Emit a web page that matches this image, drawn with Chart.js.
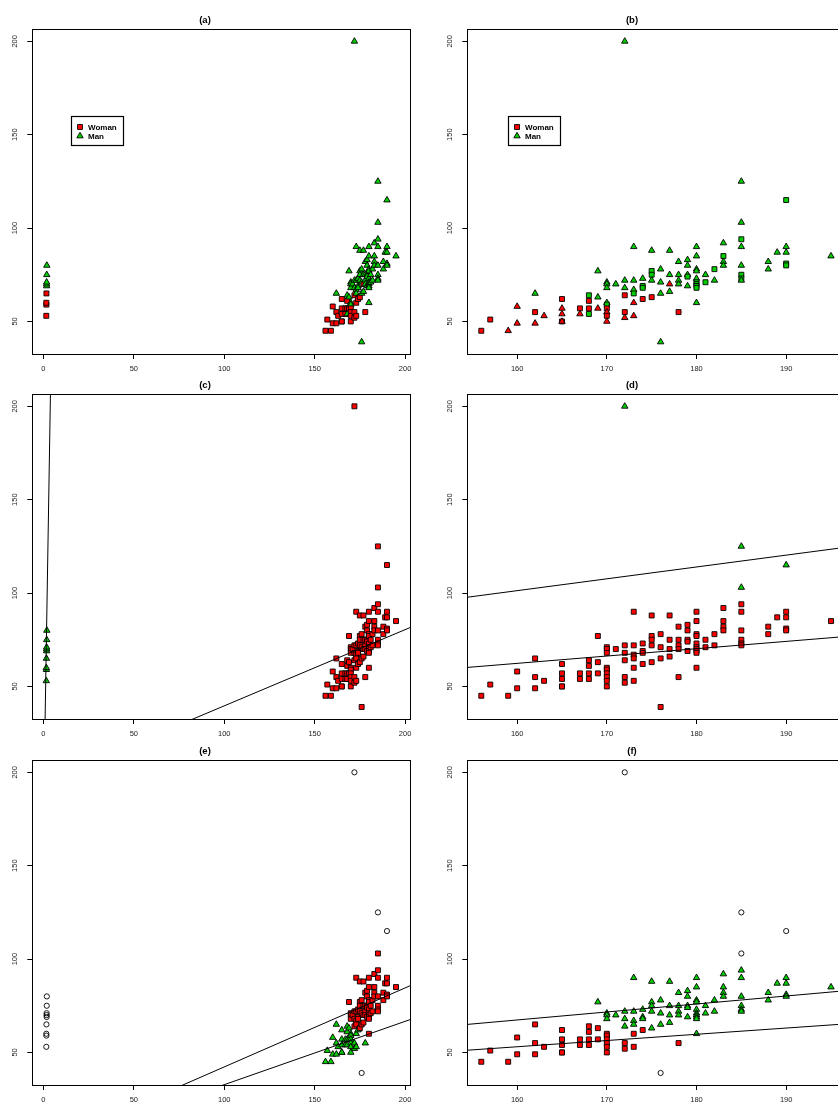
<!DOCTYPE html>
<html>
<head>
<meta charset="utf-8">
<title>Height and weight: sex groups and regression clusters</title>
<script src="https://cdn.jsdelivr.net/npm/chart.js@4.4.1/dist/chart.umd.min.js"></script>
<style>
  html, body { margin: 0; padding: 0; background: #fff; overflow: hidden; }
  #page { position: relative; width: 838px; height: 1102px; overflow: hidden; }
  #page canvas { position: absolute; }
</style>
</head>
<body>
<div id="page">
  <canvas id="chartA" width="419" height="371" style="left:0;top:0"></canvas>
  <canvas id="chartB" width="432" height="371" style="left:419px;top:0"></canvas>
  <canvas id="chartC" width="419" height="371" style="left:0;top:365px"></canvas>
  <canvas id="chartD" width="432" height="371" style="left:419px;top:365px"></canvas>
  <canvas id="chartE" width="419" height="371" style="left:0;top:731px"></canvas>
  <canvas id="chartF" width="432" height="371" style="left:419px;top:731px"></canvas>
</div>
<script>
// Height (cm) and weight (kg). The first nine heights were typed in metres.
const height = [
  1.60, 1.65, 1.62, 1.68, 1.80, 1.75, 1.78, 1.85, 1.90,
  156, 157, 159, 160, 160, 162, 162, 162, 163,
  165, 165, 165, 165, 165, 167, 167, 168, 168, 168, 168, 169, 169, 169,
  170, 170, 170, 170, 170, 170, 170, 170, 170, 171,
  172, 172, 172, 172, 172, 172, 173, 173, 173, 173, 173, 173,
  174, 174, 174, 174, 175, 175, 175, 175, 175, 176, 176, 176, 176,
  177, 177, 177, 177, 178, 178, 178, 178, 178, 179, 179, 179, 179, 179,
  180, 180, 180, 180, 180, 180, 180, 180, 180, 180, 181, 181, 182, 182,
  183, 183, 183, 183, 185, 185, 185, 185, 185, 185, 185, 185,
  188, 188, 189, 190, 190, 190, 190, 190, 195
];
const weight = [
  53, 59, 60, 65, 69, 70, 71, 75, 80,
  45, 51, 45, 58, 49, 65, 55, 49, 53,
  62, 57, 54, 50, 50, 57, 54, 64, 61, 57, 54, 77, 63, 57,
  71, 70, 68, 60, 59, 57, 55, 53, 50, 70,
  200, 72, 68, 64, 55, 52, 90, 72, 67, 65, 60, 53,
  73, 69, 68, 62, 88, 77, 75, 72, 63, 78, 71, 65, 39,
  88, 75, 70, 66, 82, 75, 72, 70, 55, 83, 80, 75, 74, 69,
  90, 85, 78, 77, 73, 71, 70, 69, 68, 60, 75, 71, 78, 72,
  92, 85, 82, 80, 125, 103, 94, 90, 80, 75, 73, 72,
  82, 78, 87, 115, 90, 87, 81, 80, 85
];

// One letter per point, spaces only separate height groups.
// sexA: colour in (a) and (b), shape in (a). sexB: shape in (b). W = Woman, M = Man
const sexA = 'WWWWMMMMM W W W WW MWW W WWWWW WW MWWM MMW MMMMMWWWW M MMMWWW MMMMWW MMMW MMMMW MMMM MMWM MMMMW MMMMM MMMMMMMMMM MM MM MMMM MMMMMMMM MM M MMMMM M'.replace(/ /g, '');
const sexB = 'WWWWMMMMM W W M MM MWM M WMMWM WM WWWW MMM MMMMWWMWM M MMMWWM MMMWMM MWWW MWWMW MMMM MMMM MMMMW MMMWM MMMMMWWWWM MW WM MWMM MMWMMWWM MM M WMMWW M'.replace(/ /g, '');
// regression clusters: (c) and (d) two components, (e) and (f) L = lower, U = upper, O = outlier
const clusterC = '111111111 2 2 2 22 222 2 22222 22 2222 222 222222222 2 222222 222222 2222 22222 2222 2222 22222 22222 2222222222 22 22 2222 22222222 22 2 22222 2'.replace(/ /g, '');
const clusterD = '111111111 1 1 1 11 111 1 11111 11 1111 111 111111111 1 211111 111111 1111 11111 1111 1111 11111 11111 1111111111 11 11 1111 22111111 11 1 21111 1'.replace(/ /g, '');
const clusterE = 'OOOOOOOOO L L L LL LLL L LLLLL LL LLLL ULL UUULLLLLL U OUUULL UUUULL UUUL UUUUU UUUO UUUU UUUUL UUUUU UUUUUUUUUU UU UU UUUU OUUUUUUU UU U OUUUU U'.replace(/ /g, '');
const clusterF = 'OOOOOOOOO L L L LL LLL L LLLLL LL LLLL ULL UUULLLLLL U OUUULL UUUULL UUUL UUUUU UUUO UUUU UUUUL UUUUU UUUUUUUUUU UU UU UUUU OOUUUUUU UU U OUUUU U'.replace(/ /g, '');

// fitted lines weight = intercept + slope * height
const interceptC = [-22.8, -1.2];
const slopeC = [58.9, 0.408];
const interceptD = [-0.15, -0.36];
const slopeD = [0.634, 0.392];
const interceptE = [-0.06, -1.16];
const slopeE = [0.423, 0.339];
const interceptF = [-1.1, -0.4];
const slopeF = [0.428, 0.334];

const legendLabels = ['Woman', 'Man'];
const xTicksWide = [0, 50, 100, 150, 200];
const xTicksNarrow = [160, 170, 180, 190];
const yTicks = [50, 100, 150, 200];

const RED = '#ff0000';
const GREEN = '#00cd00';
const FONT = '"Liberation Sans", Arial, sans-serif';

Chart.defaults.font.family = FONT;

const MARKS = {
  redSquare: { style: 'rect', fill: RED, r: 3.5 },
  greenSquare: { style: 'rect', fill: GREEN, r: 3.5 },
  redTriangle: { style: 'triangle', fill: RED, r: 3.7 },
  greenTriangle: { style: 'triangle', fill: GREEN, r: 3.7 },
  circle: { style: 'circle', fill: 'rgba(255,255,255,0)', r: 2.6 }
};

// R style axis range: data range widened by 4% each side
function rRange(vals) {
  const lo = Math.min(...vals), hi = Math.max(...vals);
  const pad = (hi - lo) * 0.04;
  return [lo - pad, hi + pad];
}

function drawMarker(ctx, key, x, y) {
  const m = MARKS[key];
  ctx.beginPath();
  if (m.style === 'rect') {
    const s = m.r * Math.SQRT1_2;
    ctx.rect(x - s, y - s, 2 * s, 2 * s);
  } else {
    ctx.moveTo(x, y - m.r);
    ctx.lineTo(x + m.r * Math.sin(Math.PI * 2 / 3), y + m.r / 2);
    ctx.lineTo(x - m.r * Math.sin(Math.PI * 2 / 3), y + m.r / 2);
    ctx.closePath();
  }
  ctx.fillStyle = m.fill;
  ctx.fill();
  ctx.lineWidth = 0.9;
  ctx.strokeStyle = '#000';
  ctx.stroke();
}

// box round the plot, rotated y tick labels, and the legend
const rFrame = {
  id: 'rFrame',
  afterDraw(chart, args, opts) {
    const { ctx, chartArea: a } = chart;
    const y = chart.scales.y, x = chart.scales.x;
    ctx.save();
    ctx.strokeStyle = '#000';
    ctx.lineWidth = 1;
    const l = Math.round(a.left) + 0.5, t = Math.round(a.top) + 0.5;
    ctx.strokeRect(l, t, Math.round(a.right) - Math.round(a.left), Math.round(a.bottom) - Math.round(a.top));

    ctx.fillStyle = '#222';
    ctx.font = '7.5px ' + FONT;
    ctx.textAlign = 'center';
    ctx.textBaseline = 'middle';
    y.ticks.forEach(tk => {
      ctx.save();
      ctx.translate(a.left - 17, y.getPixelForValue(tk.value));
      ctx.rotate(-Math.PI / 2);
      ctx.fillText(String(tk.value), 0, 0);
      ctx.restore();
    });

    if (opts.at) {
      const bx = Math.round(x.getPixelForValue(opts.at[0])) + 0.5;
      const by = Math.round(y.getPixelForValue(opts.at[1])) + 0.5;
      ctx.lineWidth = 1.2;
      ctx.strokeRect(bx, by, 52, 29);
      const keys = ['redSquare', 'greenTriangle'];
      ctx.font = 'bold 8px ' + FONT;
      ctx.textAlign = 'left';
      legendLabels.forEach((lab, k) => {
        const ry = by + 10.5 + k * 9;
        drawMarker(ctx, keys[k], bx + 8.5, ry);
        ctx.fillStyle = '#000';
        ctx.fillText(lab, bx + 16.5, ry + 0.5);
      });
    }
    ctx.restore();
  }
};

const panels = [
  { id: 'chartA', title: '(a)', wide: true, legendAt: [15, 160],
    mark: i => sexA[i] === 'W' ? 'redSquare' : 'greenTriangle' },
  { id: 'chartB', title: '(b)', wide: false, legendAt: [159, 160],
    mark: i => (sexA[i] === 'W' ? 'red' : 'green') + (sexB[i] === 'W' ? 'Square' : 'Triangle') },
  { id: 'chartC', title: '(c)', wide: true, intercept: interceptC, slope: slopeC,
    mark: i => clusterC[i] === '1' ? 'greenTriangle' : 'redSquare' },
  { id: 'chartD', title: '(d)', wide: false, intercept: interceptD, slope: slopeD,
    mark: i => clusterD[i] === '2' ? 'greenTriangle' : 'redSquare' },
  { id: 'chartE', title: '(e)', wide: true, intercept: interceptE, slope: slopeE,
    mark: i => ({ L: 'greenTriangle', U: 'redSquare', O: 'circle' })[clusterE[i]] },
  { id: 'chartF', title: '(f)', wide: false, intercept: interceptF, slope: slopeF,
    mark: i => ({ L: 'redSquare', U: 'greenTriangle', O: 'circle' })[clusterF[i]] }
];

function makeChart(p) {
  const idx = height.map((h, i) => i).filter(i => p.wide || height[i] > 100);
  const xr = rRange(idx.map(i => height[i]));
  const yr = rRange(weight);
  const keys = idx.map(p.mark);

  const datasets = [];
  (p.slope || []).forEach((b, k) => {
    const a = p.intercept[k];
    datasets.push({
      data: [{ x: xr[0], y: a + b * xr[0] }, { x: xr[1], y: a + b * xr[1] }],
      showLine: true,
      borderColor: '#000',
      borderWidth: 1,
      pointRadius: 0,
      order: 0
    });
  });
  datasets.push({
    data: idx.map(i => ({ x: height[i], y: weight[i] })),
    pointStyle: keys.map(k => MARKS[k].style),
    pointBackgroundColor: keys.map(k => MARKS[k].fill),
    pointRadius: keys.map(k => MARKS[k].r),
    pointBorderColor: '#000',
    pointBorderWidth: 0.9,
    order: 1
  });

  const tickFont = { family: FONT, size: 7.5 };
  new Chart(document.getElementById(p.id), {
    type: 'scatter',
    data: { datasets },
    options: {
      responsive: false,
      animation: false,
      events: [],
      layout: { padding: { left: 0, right: p.wide ? 9 : 6, top: 0, bottom: 0 } },
      plugins: {
        legend: { display: false },
        tooltip: { enabled: false },
        title: {
          display: true,
          text: p.title,
          color: '#000',
          font: { family: FONT, size: 9.5, weight: 'bold' },
          padding: { top: 14.3, bottom: 3.6 }
        },
        rFrame: { at: p.legendAt || null }
      },
      scales: {
        x: {
          type: 'linear',
          min: xr[0],
          max: xr[1],
          afterBuildTicks: s => { s.ticks = (p.wide ? xTicksWide : xTicksNarrow).map(v => ({ value: v })); },
          afterFit: s => { s.height = 17; },
          grid: { display: true, drawOnChartArea: false, drawTicks: true, tickLength: 5, color: '#000', lineWidth: 1 },
          border: { display: false },
          ticks: { font: tickFont, color: '#222', padding: 5, maxRotation: 0, autoSkip: false }
        },
        y: {
          type: 'linear',
          min: yr[0],
          max: yr[1],
          afterBuildTicks: s => { s.ticks = yTicks.map(v => ({ value: v })); },
          afterFit: s => { s.width = p.wide ? 32.3 : 48.3; },
          grid: { display: true, drawOnChartArea: false, drawTicks: true, tickLength: 5, color: '#000', lineWidth: 1 },
          border: { display: false },
          ticks: { display: false }
        }
      }
    },
    plugins: [rFrame]
  });
}

panels.forEach(makeChart);
</script>
</body>
</html>
